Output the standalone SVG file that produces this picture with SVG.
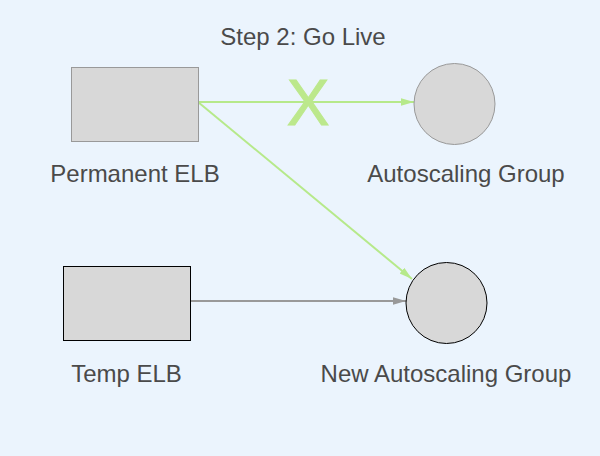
<svg xmlns="http://www.w3.org/2000/svg" width="600" height="456" viewBox="0 0 600 456">
<style>
text{font-family:"Liberation Sans",Arial,Helvetica,sans-serif;font-size:24px;fill:#4a4a4a;text-anchor:middle}
.box{fill:#d8d8d8}
.g{stroke:#b6e98a;stroke-width:2;fill:none}
.k{stroke:#999;stroke-width:2;fill:none}
</style>
<defs>
<marker id="ag" markerUnits="userSpaceOnUse" markerWidth="14" markerHeight="9" refX="13" refY="4" orient="auto"><path d="M0,0.3 L13,4 L0,7.7 z" fill="#b6e98a"/></marker>
<marker id="ak" markerUnits="userSpaceOnUse" markerWidth="14" markerHeight="9" refX="13" refY="4" orient="auto"><path d="M0,0.3 L13,4 L0,7.7 z" fill="#999"/></marker>
</defs>
<rect width="600" height="456" fill="#ebf4fd"/>
<text x="303" y="45">Step 2: Go Live</text>
<g id="connectors">
<line class="g" x1="198" y1="102" x2="414" y2="102" marker-end="url(#ag)"/>
<line class="g" x1="198" y1="102" x2="412" y2="279" marker-end="url(#ag)"/>
<line class="k" x1="190" y1="301" x2="406" y2="301" marker-end="url(#ak)"/>
<text x="308" y="125" style="font-size:64px;fill:#bce88c;stroke:#bce88c;stroke-width:1">X</text>
</g>
<g id="permanent-elb">
<rect class="box" x="71.5" y="67.5" width="127" height="74" stroke="#999" stroke-width="1"/>
<text x="135" y="182">Permanent ELB</text>
</g>
<g id="autoscaling-group">
<circle class="box" cx="454.5" cy="104" r="40.5" stroke="#999" stroke-width="1"/>
<text x="466" y="182">Autoscaling Group</text>
</g>
<g id="temp-elb">
<rect class="box" x="63.5" y="266.5" width="127" height="74" stroke="#000" stroke-width="1"/>
<text x="126.5" y="382">Temp ELB</text>
</g>
<g id="new-autoscaling-group">
<circle class="box" cx="446.5" cy="303" r="40.5" stroke="#000" stroke-width="1"/>
<text x="446" y="382">New Autoscaling Group</text>
</g>
</svg>
